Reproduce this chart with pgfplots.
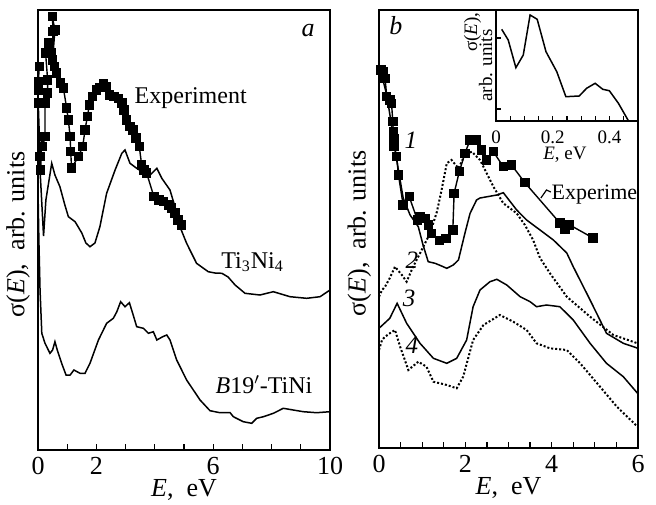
\documentclass[border=0pt]{standalone}
\usepackage{pgfplots}
\pgfplotsset{compat=1.18}
\usepackage{fontspec}
\setmainfont{Liberation Serif}
\begin{document}
\begin{tikzpicture}
\useasboundingbox (0pt,0pt) rectangle (328pt,252pt);
\pgfplotsset{
  myax/.style={scale only axis, axis line style={line width=0.9pt},
    tick align=inside, major tick length=3pt, minor tick length=3pt,
    tick style={black, line width=0.6pt}, xtick pos=left,
    ytick=\empty, clip=false,
    xticklabel style={font=\fontsize{13}{15}\selectfont, anchor=center, yshift=-8pt},
    xlabel style={font=\fontsize{13}{15}\selectfont, at={(axis description cs:0.5,0)}, anchor=center, yshift=-20pt},
    ylabel style={font=\fontsize{13}{15}\selectfont, anchor=center},
  },
  expt/.style={black, line width=0.7pt, mark=square*, mark size=2pt, mark options={solid}},
  sol/.style={black, line width=0.75pt},
  dots/.style={black, line width=1pt, dash pattern=on 1pt off 1pt},
}
% ---------------- panel a ----------------
\begin{axis}[myax, at={(19pt,27pt)}, anchor=south west, width=146pt, height=220pt,
  xmin=0, xmax=10, ymin=0, ymax=440,
  xtick={0,1,2,3,4,5,6,7,8,9,10}, xticklabels={0,,2,,,,6,,,,10},
  xlabel={\textit{E},\ \ eV}, ylabel={σ(\textit{E}),\ \ arb. units},
  ylabel style={at={(axis description cs:-0.068,0.49)}}]
\addplot[sol] coordinates {(0,310)(0.07,280)(0.19,214)(0.27,250)(0.47,286.7)(0.58,275)(0.75,263.3)(0.92,245)(1.04,233.3)(1.27,228.3)(1.50,217)(1.64,207)(1.78,203.3)(1.95,207)(2.12,223.3)(2.35,256.7)(2.64,280)(2.87,296.7)(2.98,300)(3.15,286.7)(3.38,281.7)(3.66,276.7)(3.84,275)(4.07,281.7)(4.24,271.7)(4.52,260)(4.69,243.3)(4.86,223.3)(5.09,206.7)(5.43,186.7)(5.83,178.3)(6.06,177)(6.30,176.7)(6.51,173)(6.75,165)(7.09,156.7)(7.60,155)(8.06,158.3)(8.63,153.3)(9.20,151.7)(9.66,153.3)(10,160)};
\addplot[sol] coordinates {(0,260)(0.03,210)(0.07,160)(0.13,116.7)(0.24,106.7)(0.41,96.7)(0.50,100)(0.58,108.3)(0.66,100)(0.81,86.7)(0.96,75)(1.10,75)(1.23,80)(1.44,76.7)(1.61,76.7)(1.78,86.7)(2.07,110)(2.35,126.7)(2.58,131.7)(2.70,138.3)(2.83,148.3)(2.98,143.3)(3.13,147.3)(3.26,135)(3.38,123.3)(3.61,121.7)(3.78,116.7)(3.95,118.3)(4.07,110)(4.27,113.3)(4.41,115)(4.52,110)(4.75,90)(5.09,70)(5.55,50)(5.89,39.3)(6.23,37.3)(6.58,37.3)(6.69,33.3)(7.03,28.3)(7.32,26.7)(7.49,31.7)(7.72,33.3)(8.06,36.7)(8.40,41.7)(8.74,40)(9.09,38.3)(9.54,37.3)(10,38.3)};
\addplot[expt] coordinates {(0.045,383.3)(0.01,368.3)(0.01,360)(0.01,347)(0.07,293.3)(0.09,280)(0.13,313.3)(0.16,303.3)(0.24,313.3)(0.24,347)(0.33,357)(0.33,370)(0.26,397)(0.35,407)(0.47,397)(0.52,418.3)(0.49,433.3)(0.58,420)(0.50,390)(0.56,383.3)(0.64,377)(0.78,367)(0.87,362)(0.98,342)(1.04,330)(1.10,313.3)(1.12,298.3)(1.15,282)(1.38,293.3)(1.53,303.3)(1.61,320)(1.69,333.3)(1.76,345)(1.87,353.3)(2.01,360)(2.12,362.7)(2.24,366.7)(2.33,363.3)(2.44,355)(2.60,353.3)(2.75,351.7)(2.87,347)(2.95,340)(3.04,330)(3.15,323.3)(3.26,320)(3.36,312)(3.47,303.3)(3.55,285)(3.63,280)(3.72,277)(3.97,253.3)(4.15,250)(4.29,248.3)(4.46,245)(4.58,242)(4.69,237)(4.80,230)(4.92,225)};
\node[anchor=base, font=\fontsize{12}{14}\selectfont] at (axis cs:5.23,346.7) {Experiment};
\node[anchor=base, font=\fontsize{12}{14}\selectfont] at (axis cs:7.35,181.7) {Ti\textsubscript{3}Ni\textsubscript{4}};
\node[anchor=base, font=\fontsize{12}{14}\selectfont] at (axis cs:7.74,57) {\textit{B}19$'$-TiNi};
\node[anchor=base, font=\fontsize{13}{15}\selectfont\itshape] at (axis cs:9.25,413.3) {a};
\end{axis}
% ---------------- panel b ----------------
\begin{axis}[myax, at={(189.5pt,28pt)}, anchor=south west, width=129.5pt, height=219pt,
  xmin=0, xmax=6, ymin=0, ymax=438,
  xtick={0,0.5,1,1.5,2,2.5,3,3.5,4,4.5,5,5.5,6}, xticklabels={0,,,,2,,,,4,,,,6},
  xlabel={\textit{E},\ \ eV}, ylabel={σ(\textit{E}),\ \ arb. units},
  ylabel style={at={(axis description cs:-0.076,0.49)}}]
\addplot[sol] coordinates {(0.02,380)(0.18,353)(0.29,323)(0.41,288)(0.56,250)(0.72,233)(0.91,221.3)(1.02,203)(1.14,186.3)(1.30,184.7)(1.45,182)(1.57,179.7)(1.72,183)(1.84,188)(1.99,214.7)(2.11,234.7)(2.26,248)(2.34,250)(2.73,253)(2.88,255.3)(3.19,238)(3.42,228)(3.73,218)(4.04,208)(4.35,195)(4.50,181.3)(4.89,148)(5.27,114.7)(5.66,104.7)(6.0,99.7)};
\addplot[dots] coordinates {(0,151.3)(0.07,158)(0.14,161.3)(0.25,170)(0.37,181.3)(0.53,173)(0.64,166.3)(0.79,181.3)(0.99,198)(1.18,214.7)(1.34,236)(1.45,258)(1.57,284.7)(1.68,288)(1.84,279.7)(1.99,293)(2.15,296.3)(2.34,288)(2.65,261.3)(2.88,244.7)(3.19,234.7)(3.38,223)(3.57,208)(3.73,190)(3.96,174.7)(4.35,151.3)(4.89,131.3)(5.43,113)(5.99,104.7)};
\addplot[sol] coordinates {(0,119.7)(0.25,129.7)(0.42,144.7)(0.64,124.7)(0.95,104.7)(1.26,89.7)(1.57,84.7)(1.80,89.7)(2.03,108)(2.18,141.3)(2.34,158)(2.57,166.3)(2.73,168.7)(2.96,163)(3.27,151.3)(3.50,146.3)(3.65,141.3)(3.88,143)(4.19,141.3)(4.50,128)(4.89,104.7)(5.27,84.7)(5.66,71.3)(5.99,54.7)};
\addplot[dots] coordinates {(0,98)(0.07,108)(0.14,111.3)(0.25,114.7)(0.37,118)(0.49,101.3)(0.68,78)(0.91,86.3)(1.10,81.3)(1.26,66.3)(1.57,63)(1.80,59.7)(1.95,71.3)(2.18,108)(2.42,123)(2.80,133)(3.11,126.3)(3.42,118)(3.65,104.7)(3.96,99.7)(4.35,98)(4.66,84.7)(5.12,61.3)(5.51,41.3)(5.99,21.3)};
\addplot[expt] coordinates {(0.05,378)(0.09,376.3)(0.14,369.7)(0.18,351.3)(0.25,348)(0.29,344.7)(0.32,326.3)(0.33,316.3)(0.35,309.7)(0.35,301.3)(0.41,291.3)(0.45,273)(0.56,243)(0.70,251.3)(0.89,228)(0.95,231.3)(1.07,229.7)(1.14,223)(1.22,214.7)(1.40,207.3)(1.55,209.7)(1.71,218)(1.74,254.7)(1.86,276.3)(1.99,294.7)(2.11,308)(2.25,308)(2.38,298)(2.49,288)(2.65,296.3)(2.88,281.3)(3.07,283)(3.38,265.3)(4.19,225)(4.31,219)(4.42,223)(4.96,210)};
\draw[black, line width=0.6pt] (axis cs:3.75,250) -- (axis cs:3.88,258) -- (axis cs:3.98,256);
\begin{scope}
\clip (rel axis cs:0,0) rectangle (rel axis cs:1,1);
\node[anchor=base west, inner sep=0pt, font=\fontsize{11}{14}\selectfont] at (axis cs:3.99,249) {Experiment};
\end{scope}
\node[anchor=base, font=\fontsize{13}{15}\selectfont\itshape] at (axis cs:0.39,413) {b};
\node[anchor=base, font=\fontsize{12.5}{15}\selectfont\itshape] at (axis cs:0.74,300) {1};
\node[anchor=base, font=\fontsize{12.5}{15}\selectfont\itshape] at (axis cs:0.76,180) {2};
\node[anchor=base, font=\fontsize{12.5}{15}\selectfont\itshape] at (axis cs:0.70,141.3) {3};
\node[anchor=base, font=\fontsize{12.5}{15}\selectfont\itshape] at (axis cs:0.76,95) {4};
\end{axis}
% ---------------- inset ----------------
\begin{axis}[scale only axis, at={(248pt,191.5pt)}, anchor=south west, width=71pt, height=55.5pt,
  xmin=0, xmax=0.5, ymin=0, ymax=111, clip=false,
  axis background/.style={fill=white},
  axis line style={line width=0.9pt}, tick align=inside, major tick length=2.5pt,
  tick style={black, line width=0.6pt},
  xtick={0,0.05,0.1,0.15,0.2,0.25,0.3,0.35,0.4,0.45}, xticklabels={0,,,,0.2,,,,0.4,},
  ytick={12,83}, yticklabels={}, xtick pos=left, ytick pos=left,
  xticklabel style={font=\fontsize{9.5}{11}\selectfont, anchor=center, yshift=-8pt},
  xlabel={\textit{E},\ eV},
  xlabel style={font=\fontsize{9.5}{11}\selectfont, at={(axis description cs:0.486,0)}, anchor=center, yshift=-17pt}]
\addplot[sol] coordinates {(0.020,91.7)(0.043,81)(0.070,53.3)(0.096,66)(0.120,106)(0.145,101.7)(0.176,69.3)(0.214,49.3)(0.246,24.3)(0.293,25)(0.319,32.7)(0.349,37.7)(0.376,31.7)(0.399,30.3)(0.431,17.7)(0.466,0.3)};
\node[rotate=90, font=\fontsize{9.5}{11}\selectfont] at (axis description cs:-0.165,0.80) {σ(\textit{E}),};
\node[rotate=90, font=\fontsize{9.5}{11}\selectfont] at (axis description cs:-0.072,0.5) {arb. units};
\end{axis}
\end{tikzpicture}
\end{document}
